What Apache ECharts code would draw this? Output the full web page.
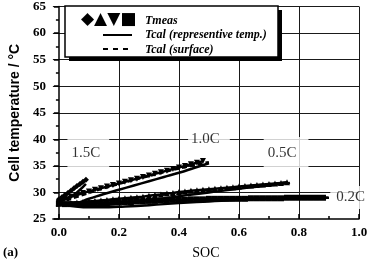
<!DOCTYPE html>
<html>
<head>
<meta charset="utf-8">
<script src="https://cdn.jsdelivr.net/npm/echarts@6/dist/echarts.min.js"></script>
<style>
  html, body { margin: 0; padding: 0; background: #fff; }
  #chart { width: 371px; height: 265px; }
</style>
</head>
<body>
<div id="chart"></div>
<script>
// 刻度
var socTicks = [0, 0.2, 0.4, 0.6, 0.8, 1.0];
var socMinorTicks = [0.1, 0.3, 0.5, 0.7, 0.9];

// 实测温度 Tmeas  [SOC, °C]
var meas15 = [[0,28.7],[0.01,29.1],[0.02,29.5],[0.03,29.9],[0.04,30.3],[0.05,30.8],[0.06,31.2],[0.07,31.6],[0.08,32.0],[0.09,32.4]];
var meas10 = [[0,28.0],[0.02,28.9],[0.04,29.2],[0.06,29.5],[0.08,29.9],[0.10,30.2],[0.12,30.5],[0.14,30.8],[0.16,31.1],[0.18,31.4],[0.20,31.7],[0.22,32.0],[0.24,32.3],[0.26,32.6],[0.28,32.9],[0.30,33.2],[0.32,33.5],[0.34,33.8],[0.36,34.1],[0.38,34.4],[0.40,34.7],[0.42,35.0],[0.44,35.3],[0.46,35.6],[0.48,35.9]];
var meas05 = [[0,27.9],[0.02,27.9],[0.04,28.0],[0.06,28.1],[0.08,28.2],[0.10,28.3],[0.12,28.4],[0.14,28.5],[0.16,28.6],[0.18,28.7],[0.20,28.8],[0.22,28.9],[0.24,29.0],[0.26,29.1],[0.28,29.2],[0.30,29.4],[0.32,29.5],[0.34,29.6],[0.36,29.8],[0.38,29.9],[0.40,30.1],[0.42,30.2],[0.44,30.3],[0.46,30.4],[0.48,30.5],[0.50,30.6],[0.52,30.7],[0.54,30.8],[0.56,30.9],[0.58,31.0],[0.60,31.1],[0.62,31.2],[0.64,31.3],[0.66,31.4],[0.68,31.5],[0.70,31.6],[0.72,31.7],[0.74,31.8],[0.76,31.9]];
var meas02 = [[0,27.9],[0.02,27.8],[0.04,27.8],[0.06,27.8],[0.08,27.8],[0.10,27.9],[0.12,27.9],[0.14,28.0],[0.16,28.0],[0.18,28.1],[0.20,28.1],[0.22,28.2],[0.24,28.2],[0.26,28.3],[0.28,28.3],[0.30,28.4],[0.32,28.4],[0.34,28.5],[0.36,28.5],[0.38,28.6],[0.40,28.6],[0.42,28.6],[0.44,28.7],[0.46,28.7],[0.48,28.7],[0.50,28.8],[0.52,28.8],[0.54,28.8],[0.56,28.8],[0.58,28.8],[0.60,28.8],[0.62,28.8],[0.64,28.9],[0.66,28.9],[0.68,28.9],[0.70,28.9],[0.72,28.9],[0.74,28.9],[0.76,29.0],[0.78,29.0],[0.80,29.0],[0.82,29.0],[0.84,29.0],[0.86,29.0],[0.88,29.0]];

// 计算温度 Tcal (representive temp.)
var calc15 = [[0,28.4],[0.03,28.9],[0.06,30.0],[0.09,31.6]];
var calc10 = [[0,28.0],[0.05,28.0],[0.1,28.8],[0.15,29.7],[0.2,30.5],[0.25,31.3],[0.3,32.1],[0.35,32.9],[0.4,33.7],[0.45,34.6],[0.5,35.5]];
var calc05 = [[0,28.0],[0.05,27.6],[0.1,27.5],[0.15,27.6],[0.2,27.9],[0.3,28.5],[0.4,29.3],[0.5,30.0],[0.6,30.7],[0.7,31.3],[0.77,31.8]];
var calc02 = [[0,27.8],[0.05,27.4],[0.1,27.2],[0.15,27.2],[0.2,27.3],[0.3,27.6],[0.4,28.0],[0.5,28.3],[0.6,28.6],[0.7,28.8],[0.8,28.9],[0.9,29.0]];

// 计算温度 Tcal (surface)
var surf15 = [[0,28.6],[0.09,32.3]];
var surf10 = [[0,28.0],[0.1,29.9],[0.2,31.6],[0.3,33.1],[0.4,34.5],[0.5,35.7]];
var surf05 = [[0,27.9],[0.2,28.7],[0.4,29.9],[0.6,31.0],[0.77,31.9]];
var surf02 = [[0,27.8],[0.2,28.0],[0.4,28.5],[0.6,28.8],[0.9,29.0]];

// 倍率标注
var rateNames = ['1.5C', '1.0C', '0.5C', '0.2C'];
var ratePos = [[0.098, 37.5], [0.50, 40.1], [0.757, 37.5], [0.974, 29.05]];
// 标注白底留白 (上 右 下 左)
var ratePadding = [[14, 9, 2, 4], [4, 10, 2, 3], [14, 12, 2, 4], [6, 7, 2, 6]];

var serif = 'Liberation Serif';
var chart = echarts.init(document.getElementById('chart'), null, { renderer: 'canvas' });

function measSeries(data, symbol, rotate) {
  return {
    type: 'line', data: data, symbol: symbol, symbolSize: 6, symbolRotate: rotate || 0,
    showAllSymbol: true, itemStyle: { color: '#000' },
    lineStyle: { color: '#000', width: 2.5 }, z: 3, animation: false
  };
}
function calcSeries(data, dashed) {
  return {
    type: 'line', data: data, smooth: true, symbol: 'none',
    lineStyle: { color: '#000', width: 2.5, type: dashed ? [5, 3] : 'solid' }, z: 2, animation: false
  };
}

var labelData = rateNames.map(function (n, i) {
  return { name: n, value: ratePos[i], label: { padding: ratePadding[i] } };
});

var gridColor = '#1a1a1a';

var option = {
  animation: false,
  grid: { left: 49, right: 12, top: 4, bottom: 43 },
  xAxis: [{
    type: 'value', min: -0.02, max: 1.0,
    name: 'SOC', nameLocation: 'middle', nameGap: 27,
    nameTextStyle: { fontFamily: serif, fontSize: 14, color: '#000' },
    axisLine: { lineStyle: { color: '#000', width: 1.5 } },
    axisTick: { customValues: socTicks, inside: true, length: 5, lineStyle: { color: '#000', width: 1.5 } },
    axisLabel: {
      customValues: socTicks, margin: 7, color: '#000', fontFamily: serif, fontWeight: 'bold', fontSize: 13,
      formatter: function (v) { return v.toFixed(1); }
    },
    splitLine: { show: true, lineStyle: { color: ['rgba(0,0,0,0)', gridColor, gridColor, gridColor, gridColor, gridColor], width: 1 } }
  }, {
    type: 'value', min: -0.02, max: 1.0, position: 'bottom',
    axisLine: { show: false },
    axisTick: { customValues: socMinorTicks, inside: true, length: 3, lineStyle: { color: '#000', width: 1.5 } },
    axisLabel: { show: false },
    splitLine: { show: false }
  }],
  yAxis: {
    type: 'value', min: 25, max: 65, interval: 5,
    name: 'Cell temperature / °C', nameLocation: 'middle', nameGap: 29,
    nameTextStyle: { fontFamily: 'Liberation Sans', fontWeight: 'bold', fontSize: 14, color: '#000' },
    axisLine: { show: true, lineStyle: { color: '#000', width: 1.5 } },
    axisTick: { show: true, length: 5, lineStyle: { color: '#000', width: 1.5 } },
    minorTick: { show: true, splitNumber: 2, length: 3, lineStyle: { color: '#000', width: 1.5 } },
    axisLabel: { margin: 7, color: '#000', fontFamily: serif, fontWeight: 'bold', fontSize: 13 },
    splitLine: { show: true, lineStyle: { color: ['rgba(0,0,0,0)', gridColor, gridColor, gridColor, gridColor, gridColor, gridColor, gridColor, gridColor], width: 1 } }
  },
  graphic: [
    { type: 'rect', shape: { x: 69, y: 10, width: 213, height: 51 }, style: { fill: '#000' }, z: 50 },
    { type: 'rect', shape: { x: 65, y: 6, width: 213, height: 51 }, style: { fill: '#fff', stroke: '#000', lineWidth: 1.5 }, z: 51 },
    { type: 'text', x: 81, y: 20, style: { text: '◆▲▼■', font: 'bold 17px DejaVu Sans', fill: '#000', verticalAlign: 'middle' }, z: 52 },
    { type: 'text', x: 145, y: 21, style: { text: 'Tmeas', font: 'italic bold 12px Liberation Serif', fill: '#000', verticalAlign: 'middle' }, z: 52 },
    { type: 'line', shape: { x1: 103, y1: 35, x2: 132, y2: 35 }, style: { stroke: '#000', lineWidth: 2 }, z: 52 },
    { type: 'text', x: 145, y: 35, style: { text: 'Tcal (representive temp.)', font: 'italic bold 12px Liberation Serif', fill: '#000', verticalAlign: 'middle' }, z: 52 },
    { type: 'line', shape: { x1: 103, y1: 49, x2: 132, y2: 49 }, style: { stroke: '#000', lineWidth: 2, lineDash: [5, 5] }, z: 52 },
    { type: 'text', x: 145, y: 50, style: { text: 'Tcal (surface)', font: 'italic bold 12px Liberation Serif', fill: '#000', verticalAlign: 'middle' }, z: 52 },
    { type: 'text', x: 3, y: 253, style: { text: '(a)', font: 'bold 13px Liberation Serif', fill: '#000', verticalAlign: 'middle' } }
  ],
  series: [
    {
      type: 'scatter', data: labelData, symbolSize: 0.1, z: 1, silent: true,
      itemStyle: { color: 'rgba(0,0,0,0)' },
      label: {
        show: true, position: 'inside', formatter: '{b}', color: '#000',
        fontFamily: serif, fontSize: 15, backgroundColor: '#fff', padding: [6, 7, 2, 6]
      }
    },
    calcSeries(calc15), calcSeries(calc10), calcSeries(calc05), calcSeries(calc02),
    calcSeries(surf15, true), calcSeries(surf10, true), calcSeries(surf05, true), calcSeries(surf02, true),
    measSeries(meas15, 'diamond'),
    measSeries(meas10, 'triangle', 180),
    measSeries(meas05, 'triangle'),
    measSeries(meas02, 'rect')
  ]
};
chart.setOption(option);
</script>
</body>
</html>
